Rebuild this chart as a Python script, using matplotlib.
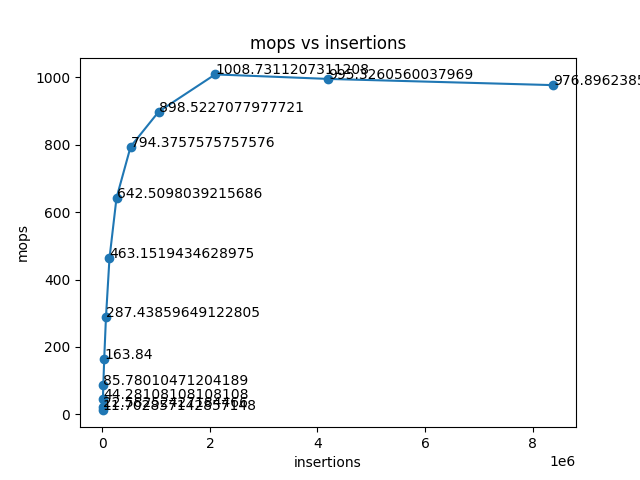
import matplotlib
matplotlib.use("Agg")
import matplotlib.pyplot as plt

insertions = [2048, 4096, 8192, 16384, 32768, 65536, 131072, 262144, 524288,
              1048576, 2097152, 4194304, 8388608]
mops = [11.702857142857149, 22.58252427184466, 44.28108108108108, 85.78010471204189,
        163.84, 287.43859649122805, 463.1519434628975, 642.5098039215686,
        794.3757575757576, 898.5227077977721, 1008.7311207311208,
        995.3260560037969, 976.8962385]

fig, ax = plt.subplots(figsize=(6.4, 4.8), dpi=100)
ax.plot(insertions, mops, marker='o')
for x, y in zip(insertions, mops):
    ax.annotate(str(y), (x, y))
ax.set_title("mops vs insertions")
ax.set_xlabel("insertions")
ax.set_ylabel("mops")
fig.savefig("out.png")
